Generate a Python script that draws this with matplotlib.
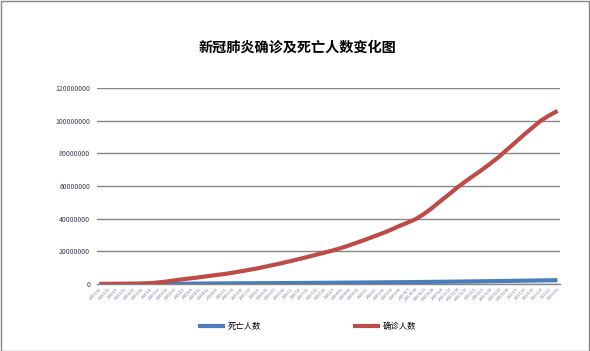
import matplotlib
matplotlib.use("Agg")
import matplotlib.pyplot as plt
from matplotlib.patches import Rectangle
import pandas as pd

plt.rcParams['font.family'] = ['Noto Sans CJK SC', 'DejaVu Sans']

title = "新冠肺炎确诊及死亡人数变化图"
series_names = ["死亡人数", "确诊人数"]

# weekly dates (labels on the x axis)
dates = pd.date_range("2020-01-22", periods=56, freq="7D")
date_labels = [f"{d.year}/{d.month}/{d.day}" for d in dates]

# values in millions
confirmed_m = [0.05, 0.08, 0.1, 0.15, 0.2, 0.3, 0.5, 0.9, 1.5, 2.2,
               2.9, 3.5, 4.1, 4.8, 5.5, 6.1, 6.9, 7.8, 8.7, 9.6,
               10.7, 11.8, 12.9, 14.1, 15.3, 16.6, 17.9, 19.2, 20.5, 22.0,
               23.7, 25.5, 27.3, 29.2, 31.1, 33.2, 35.5, 37.6, 39.8, 43.0,
               46.8, 51.0, 55.0, 59.2, 63.0, 66.6, 70.2, 74.0, 78.0, 82.5,
               87.0, 91.5, 95.8, 100.0, 103.2, 106.0]
deaths_m = [0.0, 0.0, 0.0, 0.01, 0.01, 0.02, 0.03, 0.05, 0.08, 0.12,
            0.17, 0.21, 0.25, 0.29, 0.33, 0.37, 0.4, 0.42, 0.45, 0.48,
            0.5, 0.53, 0.56, 0.59, 0.62, 0.65, 0.69, 0.73, 0.77, 0.81,
            0.85, 0.89, 0.93, 0.97, 1.01, 1.05, 1.09, 1.14, 1.19, 1.24,
            1.3, 1.36, 1.42, 1.48, 1.54, 1.6, 1.67, 1.74, 1.81, 1.88,
            1.95, 2.03, 2.11, 2.19, 2.27, 2.35]

yticks = [0, 20000000, 40000000, 60000000, 80000000, 100000000, 120000000]

confirmed = [v * 1e6 for v in confirmed_m]
deaths = [v * 1e6 for v in deaths_m]

fig = plt.figure(figsize=(5.9, 3.51), dpi=100)
ax = fig.add_axes([97 / 590, 1 - 284 / 351, 463 / 590, 196 / 351])

x = list(range(len(dates)))
ax.plot(x, deaths, color="#4a7ebb", lw=3, solid_capstyle="butt", label=series_names[0], zorder=3)
ax.plot(x, confirmed, color="#be4b48", lw=3, solid_capstyle="butt", label=series_names[1], zorder=4)

ax.set_xlim(-0.3, len(dates) - 1 + 0.3)
ax.set_ylim(0, 120000000)
ax.set_yticks(yticks)
ax.set_yticklabels([str(v) for v in yticks], fontsize=5, color="#3a3a5a")
ax.yaxis.grid(True, color="#868686", lw=1)
ax.set_axisbelow(True)
ax.tick_params(axis="y", length=0, pad=5)

ax.set_xticks(x)
ax.set_xticklabels(date_labels, fontsize=2.4, rotation=45, ha="right",
                   rotation_mode="anchor", color="#6a6a8a")
ax.tick_params(axis="x", length=0, pad=2)

for s in ["left", "right", "top"]:
    ax.spines[s].set_visible(False)
ax.spines["bottom"].set_color("#868686")
ax.spines["bottom"].set_linewidth(1)

fig.text(297 / 590, 1 - 48 / 351, title, ha="center", va="center",
         fontsize=10.2, fontweight="bold")

fig.legend(loc="center", bbox_to_anchor=(307 / 590, 1 - 326 / 351), ncol=2,
           frameon=False, fontsize=6, handlelength=3.3, handletextpad=0.3,
           columnspacing=11)

fig.patches.append(Rectangle((0.5 / 590, 0.5 / 351), 588.5 / 590, 349.5 / 351,
                             transform=fig.transFigure, fill=False,
                             edgecolor="#868686", lw=1))

fig.savefig("out.png", dpi=100)
